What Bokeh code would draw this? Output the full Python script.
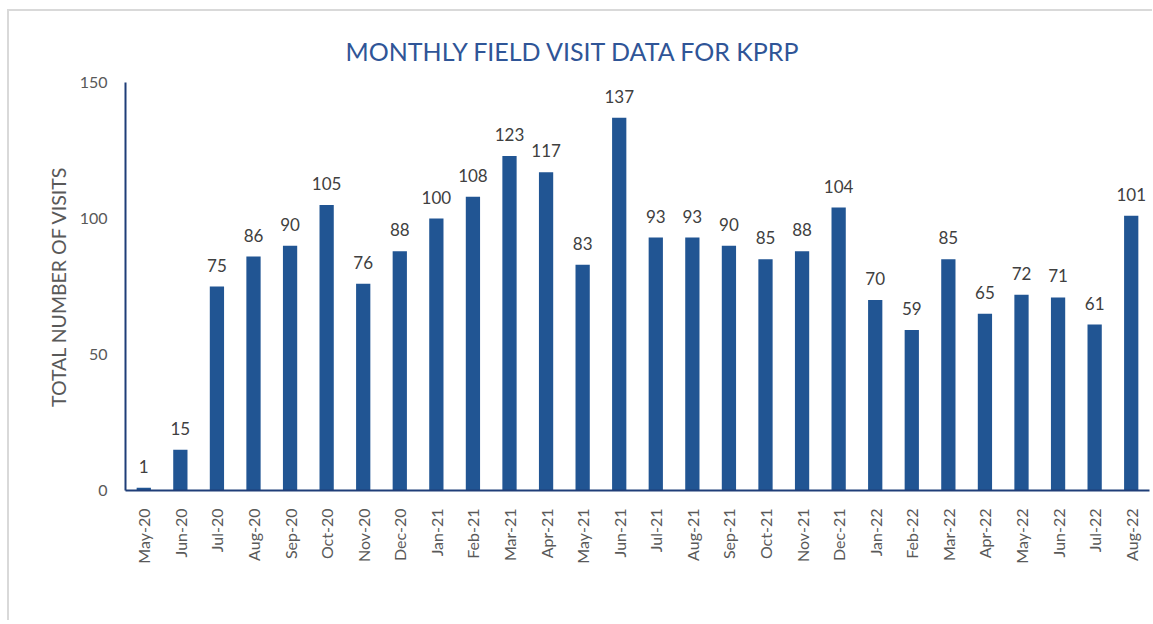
from bokeh.plotting import figure
from bokeh.models import ColumnDataSource, FactorRange, Range1d, FixedTicker, LabelSet
from bokeh.core.properties import value
from bokeh.embed import file_html
from bokeh.resources import INLINE
import math

months = ["May-20", "Jun-20", "Jul-20", "Aug-20", "Sep-20", "Oct-20", "Nov-20", "Dec-20",
          "Jan-21", "Feb-21", "Mar-21", "Apr-21", "May-21", "Jun-21", "Jul-21", "Aug-21",
          "Sep-21", "Oct-21", "Nov-21", "Dec-21", "Jan-22", "Feb-22", "Mar-22", "Apr-22",
          "May-22", "Jun-22", "Jul-22", "Aug-22"]
visits = [1, 15, 75, 86, 90, 105, 76, 88, 100, 108, 123, 117, 83, 137, 93, 93,
          90, 85, 88, 104, 70, 59, 85, 65, 72, 71, 61, 101]
y_ticks = [0, 50, 100, 150]
title_text = "MONTHLY FIELD VISIT DATA FOR KPRP"

FONT = "Lato"
BAR = "#215593"

src = ColumnDataSource(dict(m=months, v=visits, t=[str(x) for x in visits]))

p = figure(x_range=FactorRange(*months, range_padding=0),
           y_range=Range1d(0, 150),
           width=1145, height=620, output_backend="svg", toolbar_location=None,
           min_border_left=118, min_border_right=3, min_border_top=82, min_border_bottom=130)

p.title.text = title_text
p.title.text_font = FONT
p.title.text_font_size = "25px"
p.title.text_font_style = "normal"
p.title.text_color = "#2F5597"
p.title.align = "left"
p.title.offset = 220
p.title.standoff = 34

p.vbar(x="m", top="v", width=0.39, source=src, fill_color=BAR, line_color=None)

labels = LabelSet(x="m", y="v", text="t", source=src, y_offset=15,
                  text_align="center", text_baseline="alphabetic",
                  text_font=value(FONT), text_font_size="17px", text_color="#404040")
p.add_layout(labels)

p.xgrid.grid_line_color = None
p.ygrid.grid_line_color = None
p.outline_line_color = None
p.background_fill_color = "white"
p.border_fill_alpha = 0

p.yaxis.ticker = FixedTicker(ticks=y_ticks)
p.yaxis.axis_label = "TOTAL NUMBER OF VISITS"
p.yaxis.axis_label_text_font = FONT
p.yaxis.axis_label_text_font_size = "19.5px"
p.yaxis.axis_label_text_font_style = "normal"
p.yaxis.axis_label_text_color = "#595959"
p.yaxis.axis_label_standoff = 7
p.yaxis.major_label_text_font = FONT
p.yaxis.major_label_text_font_size = "16px"
p.yaxis.major_label_text_color = "#595959"
p.yaxis.major_label_standoff = 12
p.yaxis.major_tick_line_color = None
p.yaxis.minor_tick_line_color = None
p.yaxis.axis_line_color = "#1F3E78"
p.yaxis.axis_line_width = 2

p.xaxis.major_label_orientation = math.pi / 2
p.xaxis.major_label_text_font = FONT
p.xaxis.major_label_text_font_size = "16px"
p.xaxis.major_label_text_color = "#595959"
p.xaxis.major_label_standoff = 12
p.xaxis.major_tick_line_color = None
p.xaxis.minor_tick_line_color = None
p.xaxis.axis_line_color = "#1F3E78"
p.xaxis.axis_line_width = 2

p.styles = {
    "margin-left": "7px",
    "background-color": "white",
    "background-image": "linear-gradient(#d9d9d9, #d9d9d9), linear-gradient(#d9d9d9, #d9d9d9)",
    "background-size": "100% 2px, 2px 100%",
    "background-position": "0 9px, 0 9px",
    "background-repeat": "no-repeat",
}

open("out.html", "w").write(file_html(p, INLINE))
